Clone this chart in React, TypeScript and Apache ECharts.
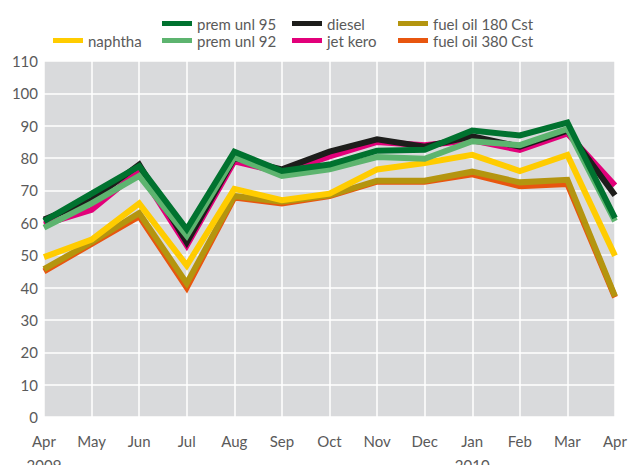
import React, { useEffect, useRef } from "react";
import * as echarts from "echarts";

const months = ["Apr\n2009", "May", "Jun", "Jul", "Aug", "Sep", "Oct", "Nov", "Dec", "Jan\n2010", "Feb", "Mar", "Apr"];
const yTicks = { min: 0, max: 110, interval: 10 };

const premUnl95 = [60.5, 69, 77.5, 58, 82, 76, 78, 82.3, 82.6, 88.5, 87, 91, 61.5];
const premUnl92 = [58.5, 66, 74.5, 56, 80.3, 74.5, 76.5, 80.3, 79.8, 85.2, 84, 89, 60.5];
const diesel = [61, 67, 78, 54, 80, 76.5, 82, 85.8, 83.5, 86.7, 83.5, 88.5, 68.5];
const jetKero = [59.5, 64, 76, 53, 79, 75.5, 80.5, 85, 84, 85.5, 82.5, 87.6, 71.5];
const naphtha = [49.4, 54.8, 66, 46.8, 70.5, 67, 69, 76.5, 78.5, 81, 76, 81, 49.8];
const fuelOil180 = [45.7, 54, 63, 41.3, 68.3, 66.5, 68.5, 73, 73, 75.8, 72.5, 73.3, 37.3];
const fuelOil380 = [45, 53.5, 62, 40, 67.8, 66, 68.3, 72.7, 72.7, 75, 71.3, 72, 37];

const colors = {
  "prem unl 95": "#00722f",
  "prem unl 92": "#5db46f",
  "diesel": "#1d1d1b",
  "jet kero": "#e2007a",
  "naphtha": "#ffcc00",
  "fuel oil 180 Cst": "#b4950f",
  "fuel oil 380 Cst": "#e8560f",
};

const FONT = "Lato";

export default function App() {
  const ref = useRef<HTMLDivElement>(null);
  useEffect(() => {
    if (!ref.current) return;
    const chart = echarts.init(ref.current, null, { renderer: "svg" });
    const mk = (name: string, data: number[]) => ({
      name,
      type: "line",
      data,
      symbol: "none",
      lineStyle: { width: 6, color: (colors as any)[name], join: "miter" },
      itemStyle: { color: (colors as any)[name] },
    });
    const legendBase = {
      orient: "vertical",
      icon: "rect",
      itemWidth: 30,
      itemHeight: 5,
      itemGap: 2,
      textStyle: { fontFamily: FONT, fontSize: 15, color: "#5a5a5a", padding: [0, 0, 0, 0] },
      padding: 0,
    };
    chart.setOption({
      animation: false,
      textStyle: { fontFamily: FONT },
      legend: [
        { ...legendBase, left: 53, top: 33, data: ["naphtha"] },
        { ...legendBase, left: 162, top: 16, data: ["prem unl 95", "prem unl 92"] },
        { ...legendBase, left: 292, top: 16, data: ["diesel", "jet kero"] },
        { ...legendBase, left: 398, top: 16, data: ["fuel oil 180 Cst", "fuel oil 380 Cst"] },
      ],
      grid: {
        left: 44, right: 14, top: 61, bottom: 48,
        show: true, backgroundColor: "#d9dadc", borderWidth: 0,
        containLabel: false, outerBoundsMode: "none",
      },
      xAxis: {
        type: "category",
        data: months,
        boundaryGap: false,
        axisLine: { show: false },
        axisTick: { show: false },
        splitLine: { show: true, lineStyle: { color: "#ffffff", width: 1.5 } },
        axisLabel: { fontFamily: FONT, fontSize: 15, color: "#5a5a5a", margin: 12, lineHeight: 24, interval: 0 },
      },
      yAxis: {
        type: "value",
        min: yTicks.min,
        max: yTicks.max,
        interval: yTicks.interval,
        axisLine: { show: false },
        axisTick: { show: false },
        splitLine: { show: true, lineStyle: { color: "#ffffff", width: 1.5 } },
        axisLabel: { fontFamily: FONT, fontSize: 15, color: "#5a5a5a", margin: 6 },
      },
      series: [
        mk("fuel oil 380 Cst", fuelOil380),
        mk("fuel oil 180 Cst", fuelOil180),
        mk("naphtha", naphtha),
        mk("jet kero", jetKero),
        mk("diesel", diesel),
        mk("prem unl 92", premUnl92),
        mk("prem unl 95", premUnl95),
      ],
    });
    return () => chart.dispose();
  }, []);
  return <div ref={ref} style={{ width: 629, height: 465, position: "absolute", left: 0, top: 0 }} />;
}
